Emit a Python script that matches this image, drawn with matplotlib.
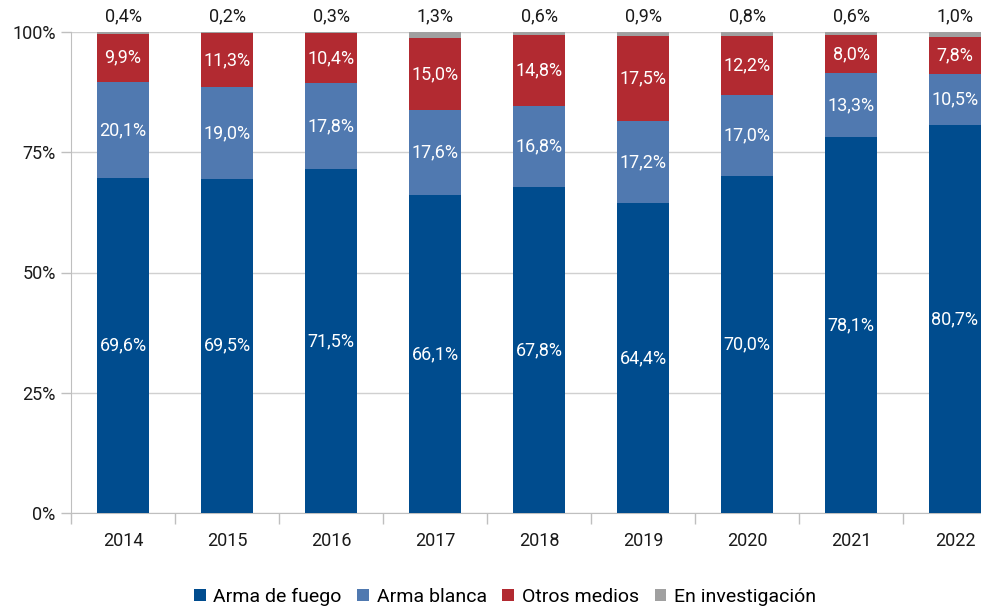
import matplotlib
matplotlib.use("Agg")
import matplotlib.pyplot as plt
import numpy as np

plt.rcParams['font.family'] = ['Roboto', 'DejaVu Sans']

years = ["2014", "2015", "2016", "2017", "2018", "2019", "2020", "2021", "2022"]
arma_fuego = [69.6, 69.5, 71.5, 66.1, 67.8, 64.4, 70.0, 78.1, 80.7]
arma_blanca = [20.1, 19.0, 17.8, 17.6, 16.8, 17.2, 17.0, 13.3, 10.5]
otros_medios = [9.9, 11.3, 10.4, 15.0, 14.8, 17.5, 12.2, 8.0, 7.8]
en_investigacion = [0.4, 0.2, 0.3, 1.3, 0.6, 0.9, 0.8, 0.6, 1.0]

series = [
    ("Arma de fuego", arma_fuego, "#004C8E"),
    ("Arma blanca", arma_blanca, "#5079B0"),
    ("Otros medios", otros_medios, "#B22A31"),
    ("En investigación", en_investigacion, "#A0A0A0"),
]

def fmt(v):
    return f"{v:.1f}".replace(".", ",") + "%"

FS = 13
fig = plt.figure(figsize=(9.81, 6.09), dpi=100)
W, H = 981, 609
x0, x1 = 71, 1007
y0, y1 = 513, 32
ax = fig.add_axes([x0 / W, 1 - y0 / H, (x1 - x0) / W, (y0 - y1) / H])

x = np.arange(len(years))
bottom = np.zeros(len(years))
handles = []
for i, (name, vals, col) in enumerate(series):
    vals = np.array(vals)
    b = ax.bar(x, vals, 0.5, bottom=bottom, color=col, label=name, zorder=3)
    handles.append(b)
    for xi, v, bt in zip(x, vals, bottom):
        if i < 3:
            ax.text(xi, bt + v / 2, fmt(v), ha="center", va="center",
                    color="white", fontsize=FS, zorder=4)
        else:
            ax.text(xi, 101.4, fmt(v), ha="center", va="bottom",
                    color="#1a1a1a", fontsize=FS, zorder=4, clip_on=False)
    bottom += vals

ax.set_xlim(-0.5, len(years) - 0.5)
ax.set_ylim(0, 100)
ax.set_yticks([0, 25, 50, 75, 100])
ax.set_yticklabels(["0%", "25%", "50%", "75%", "100%"], fontsize=FS, color="#1a1a1a")
ax.set_xticks(x)
ax.set_xticklabels(years, fontsize=FS, color="#1a1a1a")
ax.set_xticks(np.arange(-0.5, len(years) - 0.5, 1), minor=True)
ax.tick_params(axis="x", which="major", length=0, pad=14)
ax.tick_params(axis="x", which="minor", length=8, color="#BFBFBF", width=1)
ax.tick_params(axis="y", length=7, color="#BFBFBF", width=1, pad=4)
ax.grid(axis="y", color="#D0D0D0", linewidth=1, zorder=0)
for s in ["top", "right"]:
    ax.spines[s].set_visible(False)
ax.spines["left"].set_color("#BFBFBF")
ax.spines["bottom"].set_color("#BFBFBF")

fig.legend(handles=handles, labels=[s[0] for s in series], loc="center",
           bbox_to_anchor=(505 / W, 1 - 597 / H), ncol=4, frameon=False,
           fontsize=14, handlelength=0.6, handleheight=0.6, handletextpad=0.4,
           columnspacing=0.8)

fig.savefig("out.png", dpi=100)
